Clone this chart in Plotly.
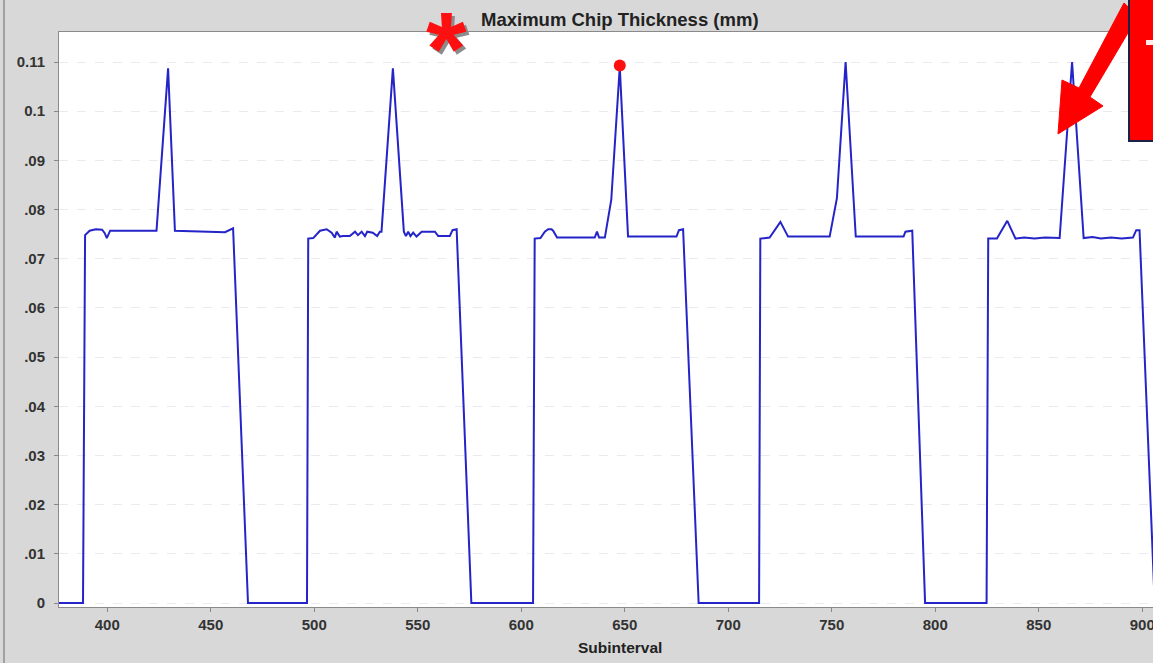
import plotly.graph_objects as go

# ---- data ----
subinterval = [
    376, 388.3, 389.3, 391.5, 394.5, 397.5, 398.8, 399.8, 401.4, 423.8, 429.4, 432.7, 456.9, 458.5, 460.8, 468.0,
    496.5, 497.1, 499.5, 502.8, 506.0, 508.4, 510.0, 510.8, 512.4, 513.9, 517.2, 519.7, 521.1, 522.9, 524.5, 525.6,
    528.3, 530.4, 531.7, 532.5, 538.0, 543.3, 544.3, 545.4, 546.5, 547.8, 549.4, 551.9, 558.3, 559.9, 565.5, 566.8,
    568.8, 575.9,
    605.7, 606.5, 609.3, 611.4, 613.0, 614.6, 615.4, 617.3, 635.5, 636.6, 637.6, 640.4, 643.5, 647.6, 651.6, 675.0,
    676.2, 678.2, 685.7,
    714.9, 715.5, 720.0, 725.2, 728.9, 749.0, 752.5, 756.7, 761.6, 784.7, 785.6, 788.9, 795.1,
    824.8, 825.6, 829.8, 834.8, 838.8, 843.0, 848.0, 853.0, 860.1, 866.1, 871.7, 876.0, 880.0, 885.0, 890.0, 895.5,
    897.1, 898.7, 906.0,
]
chip_thickness = [
    0, 0, 0.0748, 0.0757, 0.0760, 0.0759, 0.0752, 0.0742, 0.0757, 0.0757, 0.1087, 0.0757, 0.0754, 0.0758, 0.0762, 0,
    0, 0.0741, 0.0742, 0.0757, 0.0760, 0.0753, 0.0743, 0.0755, 0.0745, 0.0746, 0.0746, 0.0755, 0.0748, 0.0755, 0.0746, 0.0755,
    0.0753, 0.0746, 0.0755, 0.0755, 0.1087, 0.0755, 0.0746, 0.0755, 0.0746, 0.0753, 0.0745, 0.0755, 0.0755, 0.0746, 0.0746, 0.0758,
    0.0760, 0,
    0, 0.0741, 0.0742, 0.0755, 0.0760, 0.0760, 0.0757, 0.0743, 0.0743, 0.0755, 0.0743, 0.0743, 0.0820, 0.1090, 0.0745, 0.0745,
    0.0758, 0.0760, 0,
    0, 0.0741, 0.0743, 0.0775, 0.0745, 0.0745, 0.0823, 0.1100, 0.0745, 0.0745, 0.0755, 0.0757, 0,
    0, 0.0741, 0.0741, 0.0777, 0.0741, 0.0743, 0.0741, 0.0743, 0.0742, 0.1100, 0.0742, 0.0744, 0.0741, 0.0743, 0.0741, 0.0743,
    0.0758, 0.0758, 0,
]
marker_x = [647.6]
marker_y = [0.1093]

x_ticks = [400, 450, 500, 550, 600, 650, 700, 750, 800, 850, 900]
y_ticks = [0, 0.01, 0.02, 0.03, 0.04, 0.05, 0.06, 0.07, 0.08, 0.09, 0.10, 0.11]
y_tick_text = ["0", ".01", ".02", ".03", ".04", ".05", ".06", ".07", ".08", ".09", "0.1", "0.11"]

title_text = "Maximum Chip Thickness (mm)"
x_title = "Subinterval"

# ---- layout geometry ----
W, H = 1153, 663
ML, MR, MT, MB = 59, 0, 32, 56
PW, PH = W - ML - MR, H - MT - MB


def px(x):
    return (x - ML) / PW


def py(y):
    return (H - MB - y) / PH


FONT = "Liberation Sans, Arial, sans-serif"

fig = go.Figure()
fig.add_trace(go.Scatter(
    x=subinterval, y=chip_thickness, mode="lines",
    line=dict(color="#2424c8", width=2), hoverinfo="skip", showlegend=False,
))
fig.add_trace(go.Scatter(
    x=marker_x, y=marker_y, mode="markers",
    marker=dict(color="#ff1010", size=12), showlegend=False,
))

axis_font = dict(family=FONT, size=15, color="#333333", weight="bold")

fig.update_xaxes(
    range=[376.7, 905.2], tickvals=x_ticks, ticks="outside", ticklen=4, tickcolor="#888888",
    showgrid=False, zeroline=False, showline=True, mirror=True, linecolor="#8a8a8a", linewidth=1,
    tickfont=axis_font, ticklabeloverflow="allow",
)
fig.update_yaxes(
    range=[-0.00081, 0.1161], tickvals=y_ticks, ticktext=y_tick_text, ticks="outside", ticklen=4,
    tickcolor="#888888", showgrid=True, gridcolor="#eaeaf0", griddash="dash", gridwidth=1,
    zeroline=False, showline=True, mirror=True, linecolor="#8a8a8a", linewidth=1,
    tickfont=axis_font, ticklabelstandoff=6,
)

shapes = []
# window border on the left
shapes.append(dict(type="line", xref="paper", yref="paper", x0=px(4), x1=px(4), y0=py(0), y1=py(663),
                   line=dict(color="#a0a0a0", width=2)))

# red arrow (decoration)
arrow_pts = [(1124, 3), (1079, 88), (1062, 80), (1058, 134), (1103, 106), (1090, 97), (1138, 16)]
path = "M " + " L ".join(f"{px(a):.5f},{py(b):.5f}" for a, b in arrow_pts) + " Z"
shapes.append(dict(type="path", xref="paper", yref="paper", path=path,
                   fillcolor="#ff0000", line=dict(color="#ff0000", width=1)))
# red box at the top-right (decoration)
shapes.append(dict(type="rect", xref="paper", yref="paper", x0=px(1129), x1=px(1160), y0=py(141), y1=py(-5),
                   fillcolor="#ff0000", line=dict(color="#1c2148", width=2)))
shapes.append(dict(type="rect", xref="paper", yref="paper", x0=px(1146), x1=px(1153), y0=py(45), y1=py(40),
                   fillcolor="#ffe8e8", line=dict(width=0)))

annotations = [
    dict(text=title_text, x=px(620), y=py(19), xref="paper", yref="paper", xanchor="center", yanchor="middle",
         showarrow=False, font=dict(family=FONT, size=18.5, color="#222222", weight="bold")),
    dict(text=x_title, x=px(620), y=py(647), xref="paper", yref="paper", xanchor="center", yanchor="middle",
         showarrow=False, font=dict(family=FONT, size=15.5, color="#222222", weight="bold")),
    # asterisk shadow + asterisk
    dict(text="*", x=px(449), y=py(52), xref="paper", yref="paper", xanchor="center", yanchor="middle",
         showarrow=False, font=dict(family=FONT, size=104, color="#8c8c8c", weight="bold")),
    dict(text="*", x=px(446), y=py(49), xref="paper", yref="paper", xanchor="center", yanchor="middle",
         showarrow=False, font=dict(family=FONT, size=104, color="#ff1010", weight="bold")),
]

fig.update_layout(
    width=W, height=H, margin=dict(l=ML, r=MR, t=MT, b=MB, autoexpand=False),
    paper_bgcolor="#d8d8d8", plot_bgcolor="#ffffff",
    shapes=shapes, annotations=annotations, showlegend=False,
)

fig.write_html("out.html", config={"displayModeBar": False},
               post_script="document.body.style.margin='0';document.body.style.overflow='hidden';")
